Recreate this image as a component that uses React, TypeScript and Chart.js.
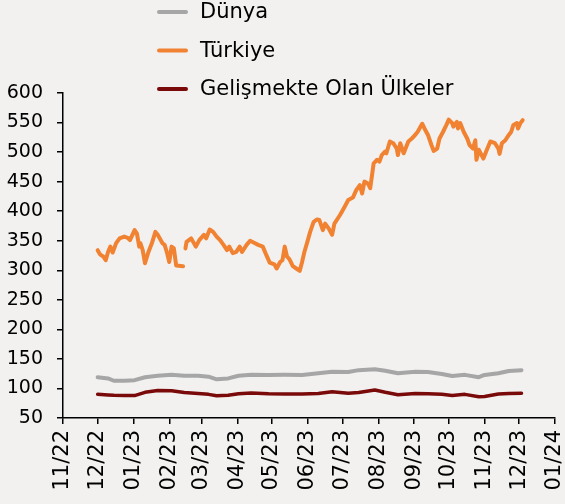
import React, { useEffect, useRef } from "react";
import { Chart, registerables } from "chart.js";

Chart.register(...registerables);

const seriesLabels = ["Dünya", "Türkiye", "Gelişmekte Olan Ülkeler"];
const seriesColors = ["#a6a6a6", "#f08232", "#7a0a0a"];

const tickDates = [
  "2022-11-01", "2022-12-01", "2023-01-01", "2023-02-01", "2023-03-01", "2023-04-01", "2023-05-01",
  "2023-06-01", "2023-07-01", "2023-08-01", "2023-09-01", "2023-10-01", "2023-11-01", "2023-12-01", "2024-01-01",
];
const tickLabels = [
  "11/22", "12/22", "01/23", "02/23", "03/23", "04/23", "05/23",
  "06/23", "07/23", "08/23", "09/23", "10/23", "11/23", "12/23", "01/24",
];
const yTicks = [50, 100, 150, 200, 250, 300, 350, 400, 450, 500, 550, 600];

const turkiyeDates = [
  "2022-12-01", "2022-12-03", "2022-12-06", "2022-12-08", "2022-12-10", "2022-12-12", "2022-12-14", "2022-12-17",
  "2022-12-20", "2022-12-24", "2022-12-27", "2022-12-29", "2023-01-02", "2023-01-04", "2023-01-06", "2023-01-07",
  "2023-01-09", "2023-01-11", "2023-01-14", "2023-01-17", "2023-01-20", "2023-01-22", "2023-01-26", "2023-01-28",
  "2023-01-30", "2023-02-01", "2023-02-03", "2023-02-05", "2023-02-07", "2023-02-13", "2023-02-14", "2023-02-15",
  "2023-02-16", "2023-02-20", "2023-02-24", "2023-02-27", "2023-03-03", "2023-03-05", "2023-03-08", "2023-03-11",
  "2023-03-14", "2023-03-17", "2023-03-20", "2023-03-23", "2023-03-25", "2023-03-28", "2023-03-31", "2023-04-03",
  "2023-04-05", "2023-04-09", "2023-04-12", "2023-04-15", "2023-04-19", "2023-04-23", "2023-04-26", "2023-04-29",
  "2023-05-03", "2023-05-05", "2023-05-08", "2023-05-10", "2023-05-12", "2023-05-14", "2023-05-16", "2023-05-19",
  "2023-05-22", "2023-05-25", "2023-05-27", "2023-05-29", "2023-06-01", "2023-06-03", "2023-06-06", "2023-06-09",
  "2023-06-11", "2023-06-14", "2023-06-16", "2023-06-19", "2023-06-22", "2023-06-24", "2023-06-29", "2023-07-03",
  "2023-07-06", "2023-07-10", "2023-07-13", "2023-07-16", "2023-07-18", "2023-07-20", "2023-07-23", "2023-07-25",
  "2023-07-28", "2023-07-31", "2023-08-02", "2023-08-04", "2023-08-07", "2023-08-08", "2023-08-11", "2023-08-14",
  "2023-08-17", "2023-08-18", "2023-08-20", "2023-08-23", "2023-08-27", "2023-08-30", "2023-09-01", "2023-09-04",
  "2023-09-08", "2023-09-10", "2023-09-13", "2023-09-16", "2023-09-18", "2023-09-21", "2023-09-23", "2023-09-26",
  "2023-09-29", "2023-10-01", "2023-10-04", "2023-10-05", "2023-10-08", "2023-10-09", "2023-10-11", "2023-10-14",
  "2023-10-17", "2023-10-19", "2023-10-22", "2023-10-24", "2023-10-25", "2023-10-27", "2023-10-31", "2023-11-03",
  "2023-11-06", "2023-11-10", "2023-11-13", "2023-11-14", "2023-11-16", "2023-11-19", "2023-11-22", "2023-11-24",
  "2023-11-26", "2023-11-29", "2023-11-30", "2023-12-02", "2023-12-04",
];
const turkiyeValues: (number | null)[] = [
  334, 327, 323, 317, 331, 340, 330, 346,
  354, 357, 355, 351, 368, 362, 340, 346,
  334, 312, 331, 346, 365, 360, 346, 343,
  330, 314, 340, 337, 308, 307, null, 337,
  348, 354, 340, 351, 360, 354, 369, 365,
  357, 351, 343, 334, 340, 329, 331, 340,
  331, 343, 350, 347, 343, 340, 326, 313,
  310, 303, 314, 317, 340, 323, 319, 307,
  303, 299, 314, 331, 351, 365, 382, 386,
  385, 368, 379, 371, 360, 379, 394, 408,
  419, 423, 436, 444, 430, 450, 447, 439,
  481, 487, 484, 495, 501, 498, 518, 515,
  506, 495, 515, 498, 518, 523, 527, 534,
  548, 540, 529, 512, 502, 506, 523, 534,
  546, 555, 549, 543, 551, 540, 549, 534,
  523, 512, 506, 520, 487, 504, 489, 504,
  518, 515, 506, 497, 515, 520, 529, 534,
  546, 549, 540, 549, 554,
];

const otherDates = [
  "2022-12-01", "2022-12-10", "2022-12-15", "2022-12-24", "2023-01-02", "2023-01-11", "2023-01-22", "2023-02-03",
  "2023-02-14", "2023-02-26", "2023-03-07", "2023-03-14", "2023-03-24", "2023-04-02", "2023-04-13", "2023-04-28",
  "2023-05-12", "2023-05-27", "2023-06-10", "2023-06-22", "2023-07-06", "2023-07-15", "2023-07-29", "2023-08-07",
  "2023-08-18", "2023-09-02", "2023-09-13", "2023-09-25", "2023-10-04", "2023-10-15", "2023-10-27", "2023-11-01",
  "2023-11-13", "2023-11-22", "2023-12-03",
];
const dunyaValues = [
  119, 117, 113, 113, 114, 119, 121.5, 123,
  121.5, 121.5, 120, 115.5, 117, 121.5, 123, 122.8,
  123, 122.8, 125.6, 128.4, 127.8, 131, 132.4, 130,
  125.6, 128.4, 127.8, 124.5, 121, 123, 119, 122.8,
  125.6, 129.5, 131,
];
const gelismekteValues = [
  90, 89, 88.5, 88, 88, 93.5, 96.5, 96,
  93, 91.5, 90, 87.5, 88.5, 91, 92.5, 91,
  90.5, 90.5, 91.5, 94.5, 92, 93, 97.4, 93.5,
  89.5, 91.5, 91, 90, 88, 90, 86, 86.5,
  90.5, 91.5, 91.8,
];

const ts = (d: string) => Date.parse(d + "T00:00:00Z");
const FONT = "'DejaVu Sans', sans-serif";

const legendPlugin = {
  id: "stackedLegend",
  afterDraw(chart: any) {
    const ctx = chart.ctx;
    ctx.save();
    ctx.font = `21px ${FONT}`;
    ctx.textBaseline = "middle";
    ctx.textAlign = "left";
    chart.data.datasets.forEach((ds: any, i: number) => {
      const y = 12 + i * 38.5;
      ctx.strokeStyle = ds.borderColor;
      ctx.lineWidth = 4;
      ctx.lineCap = "round";
      ctx.beginPath();
      ctx.moveTo(159, y);
      ctx.lineTo(186, y);
      ctx.stroke();
      ctx.fillStyle = "#000";
      ctx.fillText(ds.label, 200, y + 1);
    });
    ctx.restore();
  },
};

export default function App() {
  const ref = useRef<HTMLCanvasElement>(null);
  useEffect(() => {
    if (!ref.current) return;
    const mk = (dates: string[], vals: (number | null)[]) =>
      dates.map((d, i) => ({ x: ts(d), y: vals[i] }));
    const chart = new Chart(ref.current, {
      type: "line",
      data: {
        datasets: [
          { label: seriesLabels[0], data: mk(otherDates, dunyaValues), borderColor: seriesColors[0], borderWidth: 4 },
          { label: seriesLabels[1], data: mk(turkiyeDates, turkiyeValues), borderColor: seriesColors[1], borderWidth: 4 },
          { label: seriesLabels[2], data: mk(otherDates, gelismekteValues), borderColor: seriesColors[2], borderWidth: 3.5 },
        ],
      },
      options: {
        animation: false,
        responsive: false,
        maintainAspectRatio: false,
        spanGaps: false,
        elements: {
          point: { radius: 0 },
          line: { tension: 0, borderJoinStyle: "round", borderCapStyle: "round" },
        },
        layout: { padding: { top: 93, right: 10, left: 0, bottom: 0 } },
        plugins: { legend: { display: false }, tooltip: { enabled: false } },
        scales: {
          x: {
            type: "linear",
            min: ts(tickDates[0]),
            max: ts(tickDates[tickDates.length - 1]),
            afterBuildTicks: (scale: any) => {
              scale.ticks = tickDates.map((d) => ({ value: ts(d) }));
            },
            afterFit: (scale: any) => {
              scale.height = 86;
              scale.paddingLeft = 0;
              scale.paddingRight = 0;
            },
            ticks: {
              autoSkip: false,
              minRotation: 90,
              maxRotation: 90,
              padding: 6,
              color: "#000",
              font: { family: FONT, size: 21 },
              callback: (_v: any, i: number) => tickLabels[i],
            },
            grid: { drawOnChartArea: false, drawTicks: true, tickLength: 6, color: "#000", lineWidth: 1.5 },
            border: { display: true, color: "#000", width: 1.5 },
          },
          y: {
            min: 50,
            max: 600,
            afterBuildTicks: (scale: any) => {
              scale.ticks = yTicks.map((v) => ({ value: v }));
            },
            afterFit: (scale: any) => {
              scale.width = 63;
              scale.paddingTop = 0;
              scale.paddingBottom = 0;
            },
            ticks: {
              padding: 14,
              color: "#000",
              font: { family: FONT, size: 19 },
              callback: (v: any) => String(v),
            },
            grid: { drawOnChartArea: false, drawTicks: true, tickLength: 6, color: "#000", lineWidth: 1.5 },
            border: { display: true, color: "#000", width: 1.5 },
          },
        },
      },
      plugins: [legendPlugin],
    } as any);
    return () => chart.destroy();
  }, []);
  return (
    <div style={{ position: "absolute", left: 0, top: 0, width: 565, height: 504, background: "#f2f1f0" }}>
      <canvas ref={ref} width={565} height={504} style={{ display: "block", width: 565, height: 504 }} />
    </div>
  );
}
